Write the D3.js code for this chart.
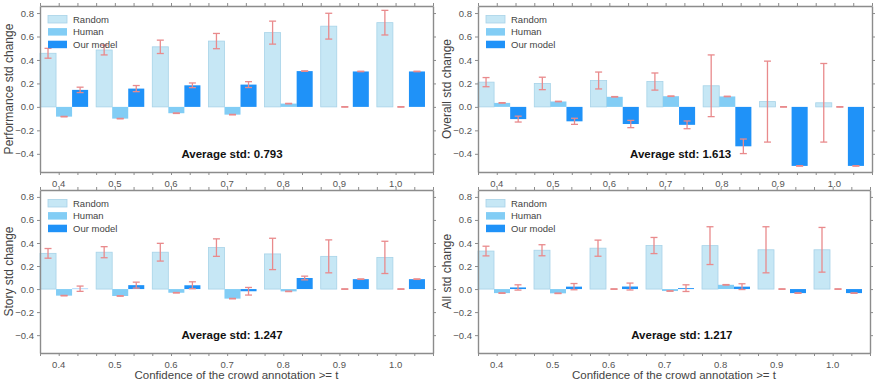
<!DOCTYPE html>
<html>
<head>
<meta charset="utf-8">
<script src="https://cdn.jsdelivr.net/npm/d3@7"></script>
<style>
  body { margin: 0; background: #fff; }
  svg { display: block; font-family: "Liberation Sans", Arial, sans-serif; }
</style>
</head>
<body>
<div id="chart"></div>
<script>
// categories and legend
const thresholds = ["0.4", "0.5", "0.6", "0.7", "0.8", "0.9", "1.0"];
const seriesNames = ["Random", "Human", "Our model"];
const yTickValues = [0.8, 0.6, 0.4, 0.2, 0.0, -0.2, -0.4];

// performance
const perfRandom = [0.457, 0.485, 0.512, 0.561, 0.633, 0.688, 0.718];
const perfRandomErr = [0.042, 0.042, 0.057, 0.065, 0.098, 0.11, 0.105];
const perfHuman = [-0.083, -0.1, -0.054, -0.066, 0.028, 0.0, 0.0];
const perfHumanErr = [0.002, 0.002, 0.002, 0.002, 0.002, 0.002, 0.002];
const perfOurs = [0.145, 0.156, 0.184, 0.19, 0.305, 0.302, 0.302];
const perfOursErr = [0.023, 0.026, 0.02, 0.025, 0.002, 0.002, 0.002];

// overall
const overallRandom = [0.211, 0.2, 0.225, 0.216, 0.18, 0.045, 0.035];
const overallRandomErr = [0.039, 0.053, 0.072, 0.073, 0.263, 0.345, 0.335];
const overallHuman = [0.034, 0.046, 0.086, 0.091, 0.089, 0.0, 0.0];
const overallHumanErr = [0.002, 0.002, 0.002, 0.002, 0.002, 0.002, 0.002];
const overallOurs = [-0.104, -0.123, -0.146, -0.153, -0.336, -0.503, -0.503];
const overallOursErr = [0.025, 0.026, 0.031, 0.033, 0.062, 0.002, 0.002];

// story
const storyRandom = [0.31, 0.32, 0.32, 0.36, 0.305, 0.284, 0.275];
const storyRandomErr = [0.042, 0.048, 0.077, 0.076, 0.136, 0.143, 0.14];
const storyHuman = [-0.057, -0.06, -0.032, -0.083, -0.02, 0.0, 0.0];
const storyHumanErr = [0.002, 0.002, 0.002, 0.002, 0.002, 0.002, 0.002];
const storyOurs = [0.003, 0.034, 0.033, -0.019, 0.096, 0.086, 0.086];
const storyOursErr = [0.023, 0.026, 0.03, 0.033, 0.016, 0.002, 0.002];

// all
const allRandom = [0.33, 0.337, 0.355, 0.378, 0.377, 0.341, 0.341];
const allRandomErr = [0.042, 0.048, 0.07, 0.07, 0.164, 0.2, 0.194];
const allHuman = [-0.035, -0.037, 0.0, -0.017, 0.037, 0.0, 0.0];
const allHumanErr = [0.002, 0.002, 0.002, 0.002, 0.002, 0.002, 0.002];
const allOurs = [0.014, 0.021, 0.022, 0.008, 0.021, -0.035, -0.035];
const allOursErr = [0.023, 0.027, 0.03, 0.029, 0.025, 0.002, 0.002];

const averageStd = ["0.793", "1.613", "1.247", "1.217"];

let barColours = ["#c6e7f5", "#82cdf5", "#1f92f8"];
let barEdges = ["#a7d3e8", "#82cdf5", "#1f92f8"];
let errColour = "#e98a8c";
let spineColour = "#8c8c8c";
let tickTextColour = "#555555";

const width = 880, height = 382;

var svg = d3.select("#chart")
    .append("svg")
    .attr("width", width)
    .attr("height", height);

var panels = [
    {label: "Performance std change", avg: averageStd[0], left: 40, right: 433, top: 6, bottom: 172, annX: 3.42, xTitle: false,
     series: [[perfRandom, perfRandomErr], [perfHuman, perfHumanErr], [perfOurs, perfOursErr]]},
    {label: "Overall std change", avg: averageStd[1], left: 478, right: 872, top: 6, bottom: 172, annX: 3.6, xTitle: false,
     series: [[overallRandom, overallRandomErr], [overallHuman, overallHumanErr], [overallOurs, overallOursErr]]},
    {label: "Story std change", avg: averageStd[2], left: 40, right: 433, top: 190, bottom: 353, annX: 3.42, xTitle: true,
     series: [[storyRandom, storyRandomErr], [storyHuman, storyHumanErr], [storyOurs, storyOursErr]]},
    {label: "All std change", avg: averageStd[3], left: 478, right: 870, top: 190, bottom: 353, annX: 3.64, xTitle: true,
     series: [[allRandom, allRandomErr], [allHuman, allHumanErr], [allOurs, allOursErr]]}
];

const barW = 2 / 7;

panels.forEach(function(p) {
    var x = d3.scaleLinear().domain([0, thresholds.length]).range([p.left, p.right]);
    var y = d3.scaleLinear().domain([-0.555, 0.86]).range([p.bottom, p.top]);
    var g = svg.append("g");

    // bars
    p.series.forEach(function(s, j) {
        var rows = s[0].map(function(v, i) { return {i: i, v: v, e: s[1][i]}; });
        g.append("g")
            .selectAll("rect")
            .data(rows)
            .enter().append("rect")
            .attr("x", d => x(d.i + j * barW))
            .attr("width", x(barW) - x(0))
            .attr("y", d => y(Math.max(0, d.v)))
            .attr("height", d => Math.abs(y(d.v) - y(0)))
            .attr("fill", barColours[j])
            .attr("stroke", barEdges[j])
            .attr("stroke-width", j === 0 ? 0.8 : 0);
    });

    // error bars
    p.series.forEach(function(s, j) {
        var rows = s[0].map(function(v, i) { return {cx: x(i + (j + 0.5) * barW), lo: y(v - s[1][i]), hi: y(v + s[1][i])}; });
        var eg = g.append("g").attr("stroke", errColour).attr("stroke-width", 1.3);
        eg.selectAll("line.stem").data(rows).enter().append("line")
            .attr("x1", d => d.cx).attr("x2", d => d.cx)
            .attr("y1", d => d.lo).attr("y2", d => d.hi);
        eg.selectAll("line.capHi").data(rows).enter().append("line")
            .attr("x1", d => d.cx - 3.5).attr("x2", d => d.cx + 3.5)
            .attr("y1", d => d.hi).attr("y2", d => d.hi);
        eg.selectAll("line.capLo").data(rows).enter().append("line")
            .attr("x1", d => d.cx - 3.5).attr("x2", d => d.cx + 3.5)
            .attr("y1", d => d.lo).attr("y2", d => d.lo);
    });

    // frame and ticks
    var minorTicks = d3.range(0, thresholds.length * 3 + 1).map(k => k / 3);
    var majorTicks = thresholds.map((t, i) => i + 1 / 3);

    var bottomAxis = d3.axisBottom(x).tickValues(minorTicks).tickSize(3).tickSizeOuter(0).tickFormat("");
    var topAxis = d3.axisTop(x).tickValues(minorTicks).tickSize(3).tickSizeOuter(0).tickFormat("");
    var leftAxis = d3.axisLeft(y).tickValues(yTickValues).tickSize(3).tickSizeOuter(0).tickPadding(3).tickFormat(d3.format(".1f"));
    var rightAxis = d3.axisRight(y).tickValues(yTickValues).tickSize(3).tickSizeOuter(0).tickFormat("");

    [[bottomAxis, "translate(0," + p.bottom + ")"], [topAxis, "translate(0," + p.top + ")"],
     [leftAxis, "translate(" + p.left + ",0)"], [rightAxis, "translate(" + p.right + ",0)"]].forEach(function(a) {
        var ag = g.append("g").attr("transform", a[1]).call(a[0]);
        ag.select(".domain").attr("stroke", spineColour).attr("stroke-width", 1.4);
        ag.selectAll(".tick line").attr("stroke", spineColour).attr("stroke-width", 1);
        ag.selectAll(".tick text").attr("fill", tickTextColour).attr("font-size", 9.5)
            .attr("font-family", "Liberation Sans, Arial, sans-serif");
    });

    // category labels
    g.append("g")
        .selectAll("text")
        .data(thresholds)
        .enter().append("text")
        .attr("x", (d, i) => x(majorTicks[i]))
        .attr("y", p.bottom + 14.5)
        .attr("text-anchor", "middle")
        .attr("font-size", 9.5)
        .attr("fill", tickTextColour)
        .text(d => d);

    // y title
    g.append("text")
        .attr("transform", "translate(" + (p.left - 27) + "," + ((p.top + p.bottom) / 2) + ") rotate(-90)")
        .attr("text-anchor", "middle")
        .attr("font-size", 12)
        .attr("fill", "#444")
        .text(p.label);

    if (p.xTitle) {
        g.append("text")
            .attr("x", (p.left + p.right) / 2)
            .attr("y", 378.5)
            .attr("text-anchor", "middle")
            .attr("font-size", 11.5)
            .attr("fill", "#444")
            .text("Confidence of the crowd annotation >= t");
    }

    // average annotation
    g.append("text")
        .attr("x", x(p.annX))
        .attr("y", y(-0.4))
        .attr("dy", "0.35em")
        .attr("text-anchor", "middle")
        .attr("font-size", 11.5)
        .attr("font-weight", "bold")
        .attr("fill", "#111")
        .text("Average std: " + p.avg);

    // legend
    var lg = g.append("g");
    seriesNames.forEach(function(name, j) {
        var ly = p.top + 9.5 + j * 12.6;
        lg.append("rect")
            .attr("x", p.left + 8).attr("y", ly)
            .attr("width", 19).attr("height", 7.5)
            .attr("fill", barColours[j])
            .attr("stroke", barEdges[j])
            .attr("stroke-width", j === 0 ? 0.8 : 0);
        lg.append("text")
            .attr("x", p.left + 33).attr("y", ly + 3.8)
            .attr("dy", "0.35em")
            .attr("font-size", 9.5)
            .attr("fill", "#444")
            .text(name);
    });
});
</script>
</body>
</html>
